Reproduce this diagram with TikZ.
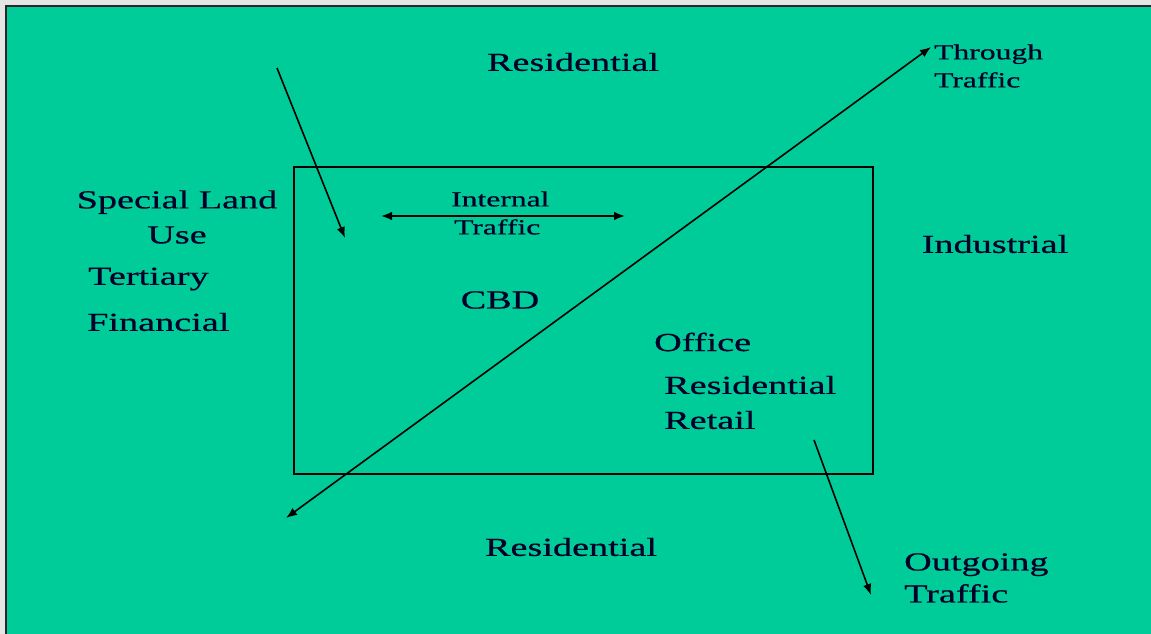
\documentclass[tikz,border=0pt]{standalone}
\usepackage{fontspec}
\setmainfont[FakeStretch=1.47,FakeBold=0.6]{Liberation Serif}
\usetikzlibrary{arrows.meta}
\definecolor{slidegreen}{RGB}{0,204,153}
\definecolor{ink}{RGB}{0,0,40}
\begin{document}
\begin{tikzpicture}[x=1pt,y=-1pt,
  big/.style={font=\fontsize{26}{35}\selectfont, text=ink, inner sep=0pt},
  small/.style={font=\fontsize{21.5}{28}\selectfont, text=ink, inner sep=0pt},
  flow/.style={line width=1.6pt, -{Latex[length=11pt,width=8.5pt]}},
  flowboth/.style={line width=1.6pt, {Latex[length=11pt,width=8.5pt]}-{Latex[length=11pt,width=8.5pt]}},
]
\useasboundingbox (0,0) rectangle (1151,634);
\fill[gray!20] (0,0) rectangle (1151,634);
\draw[line width=2.4pt, fill=slidegreen, draw=black!85] (6,6) rectangle (1170,660);
\node[draw=black, line width=1.8pt, minimum width=579pt, minimum height=307pt, inner sep=0pt] (cbdbox) at (583.5,320.5) {};

% texts
\node[big] (restop) at (573,62) {Residential};
\node[small, align=left, anchor=west] (through) at (934,66) {Through\\Traffic};
\node[big, align=center] (special) at (177,217) {Special Land\\Use};
\node[big, anchor=west] (tertiary) at (88,279) {Tertiary};
\node[big, anchor=west] (financial) at (87,322) {Financial};
\node[small, align=left, anchor=west] (internal) at (451,213) {Internal\\\hspace*{3pt}Traffic};
\node[big] (cbd) at (500,300) {CBD};
\node[big] (industrial) at (995,244) {Industrial};
\node[big, anchor=west] (office) at (654,342) {Office};
\node[big, anchor=west] (resin) at (664,385) {Residential};
\node[big, anchor=west] (retail) at (664,420) {Retail};
\node[big] (resbot) at (571,547) {Residential};
\node[big, align=left, anchor=west, font=\fontsize{26}{32}\selectfont] (outgoing) at (904,578) {Outgoing\\Traffic};

% connectors
\coordinate (inS) at (277,68);
\coordinate (inE) at (345,238);
\coordinate (intL) at (381,216);
\coordinate (intR) at (625,216);
\coordinate (thrS) at (286,518);
\coordinate (thrE) at (931,47);
\coordinate (outS) at (814,440);
\coordinate (outE) at (871,595);
\draw[flow] (inS) -- (inE);
\draw[flowboth] (intL) -- (intR);
\draw[flowboth] (thrS) -- (thrE);
\draw[flow] (outS) -- (outE);
\end{tikzpicture}
\end{document}
